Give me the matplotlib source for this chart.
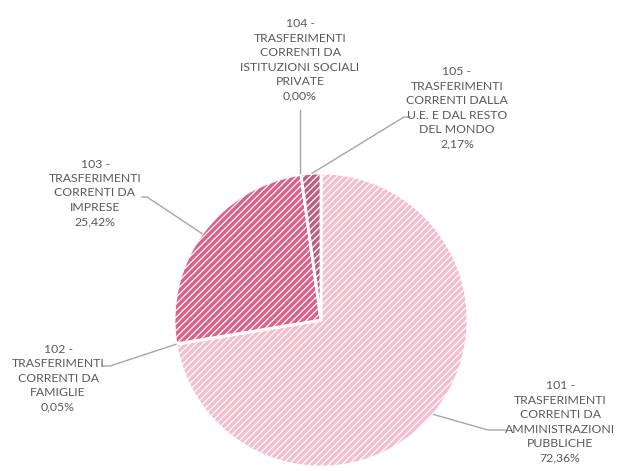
import numpy as np
import matplotlib
matplotlib.use("Agg")
import matplotlib.pyplot as plt

codes = ["101", "102", "103", "104", "105"]
names = ["TRASFERIMENTI\nCORRENTI DA\nAMMINISTRAZIONI\nPUBBLICHE",
         "TRASFERIMENTI\nCORRENTI DA\nFAMIGLIE",
         "TRASFERIMENTI\nCORRENTI DA\nIMPRESE",
         "TRASFERIMENTI\nCORRENTI DA\nISTITUZIONI SOCIALI\nPRIVATE",
         "TRASFERIMENTI\nCORRENTI DALLA\nU.E. E DAL RESTO\nDEL MONDO"]
shares = [72.36, 0.05, 25.42, 0.00, 2.17]
fills = ["#f4bfcd", "#f0b6c7", "#dc6189", "#c8a0b0", "#b9607f"]

plt.rcParams['font.family'] = ['Lato', 'DejaVu Sans']
plt.rcParams['hatch.linewidth'] = 0.9

W, H = 618, 471
fig = plt.figure(figsize=(W / 100, H / 100), dpi=100)
ax = fig.add_axes([0, 0, 1, 1])

cx, cy, r = 321, H - 320, 147
wedges, _ = ax.pie(shares, colors=fills, startangle=90, counterclock=False,
                   center=(cx, cy), radius=r, frame=True,
                   wedgeprops=dict(edgecolor='white', linewidth=2))
for w in wedges:
    w.set_hatch('/////')
ax.set_xlim(0, W)
ax.set_ylim(0, H)
ax.axis('off')

# label layout: text centre (px), leader attach angle (deg), leader knee (px)
label_xy = [(560, 422), (58, 378), (95, 193), (300, 60), (457, 108)]
attach_ang = [-40, -170.5, 144, 98, 93.5]
knee = [[(488, 430), (505, 430)], [(110, 366), (103, 366)],
        [(147, 197), (142, 197)], [(300, 110)], [(404, 117), (410, 117)]]

for i in range(len(codes)):
    txt = codes[i] + " -\n" + names[i] + "\n" + ("%.2f%%" % shares[i]).replace(".", ",")
    tx, ty = label_xy[i]
    ax.text(tx, H - ty, txt, ha='center', va='center', fontsize=8.8,
            color='#595959', linespacing=1.38)
    a = np.deg2rad(attach_ang[i])
    px, py = cx + r * np.cos(a), cy + r * np.sin(a)
    if i == 3:
        px = knee[i][0][0]
        py = cy + np.sqrt(r ** 2 - (px - cx) ** 2) + 2
    xs = [px] + [k[0] for k in knee[i]]
    ys = [py] + [H - k[1] for k in knee[i]]
    ax.plot(xs, ys, color='#a6a6a6', lw=1)

fig.savefig("out.png", dpi=100, facecolor='white')
